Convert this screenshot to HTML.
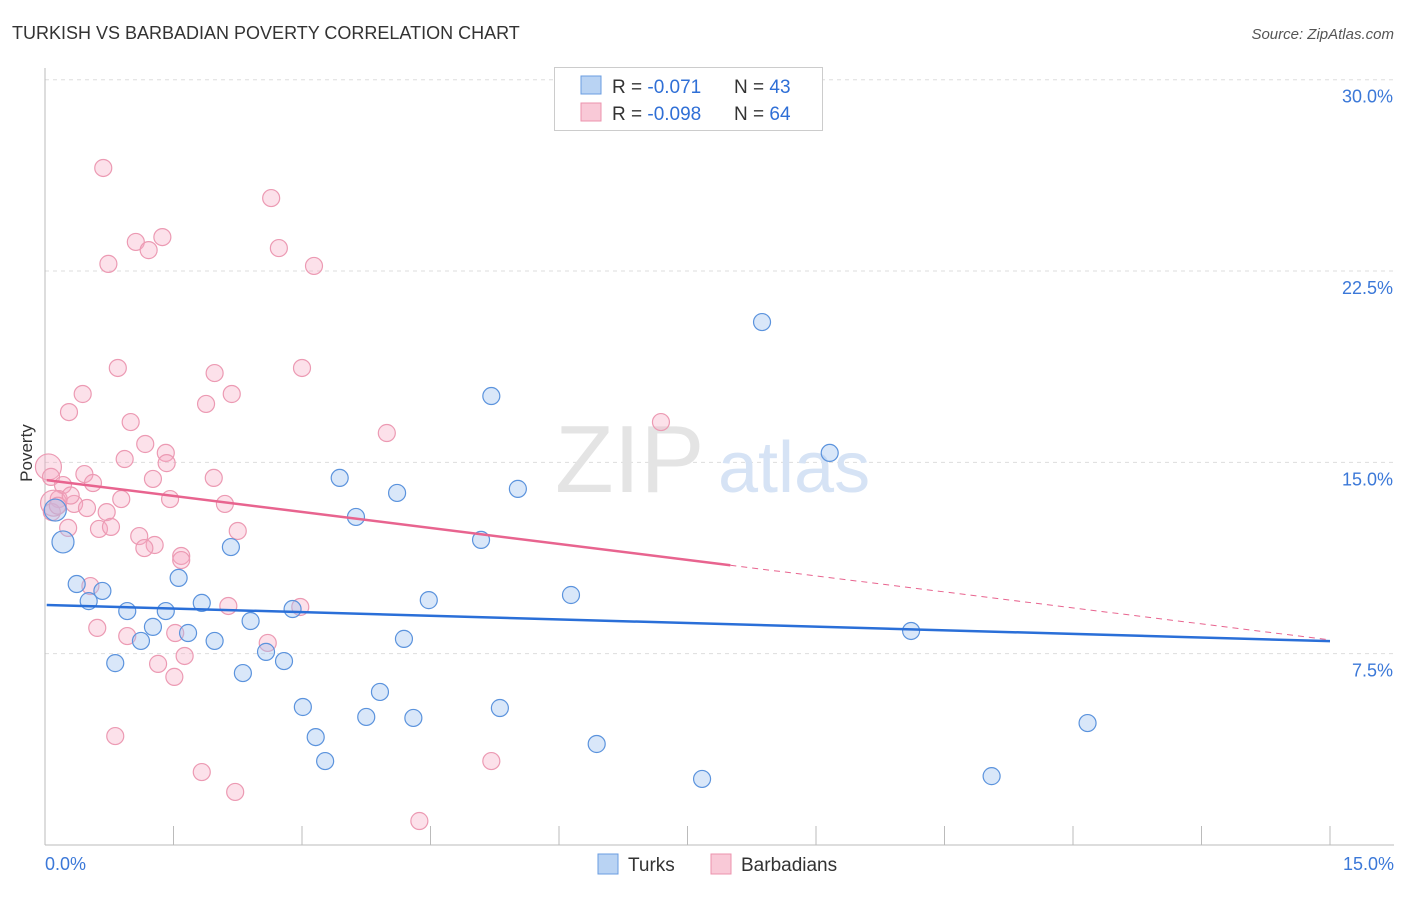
<!DOCTYPE html>
<html><head><meta charset="utf-8"><style>
body{margin:0;background:#fff;font-family:"Liberation Sans",sans-serif}
svg text{font-family:"Liberation Sans",sans-serif}
</style></head><body>
<svg id="c" width="1406" height="892" xmlns="http://www.w3.org/2000/svg">
<text x="12" y="39" font-size="18" fill="#333">TURKISH VS BARBADIAN POVERTY CORRELATION CHART</text>
<text x="1394" y="39" font-size="15" fill="#555" font-style="italic" text-anchor="end">Source: ZipAtlas.com</text>
<text x="36" y="457" font-size="17" fill="#333" transform="rotate(-90 32 457)" text-anchor="middle">Poverty</text>
<g id="grid"></g>
<text x="555" y="492" font-size="96" fill="#e4e4e4" font-family="Liberation Serif">ZIP</text>
<text x="718" y="492" font-size="72" fill="#d6e3f5">atlas</text>
<g id="pts"></g>
<g id="lines"></g>
<g>
<rect x="554.5" y="67.5" width="268" height="63" fill="#fff" stroke="#ccc"/>
<rect x="581" y="76" width="20" height="18" fill="#b9d3f3" stroke="#6a9de0"/>
<rect x="581" y="103" width="20" height="18" fill="#f9c9d7" stroke="#ec93ae"/>
<text x="612" y="93" font-size="19" fill="#333">R = <tspan fill="#2f6fd6">-0.071</tspan></text>
<text x="734" y="93" font-size="19" fill="#333">N = <tspan fill="#2f6fd6">43</tspan></text>
<text x="612" y="120" font-size="19" fill="#333">R = <tspan fill="#2f6fd6">-0.098</tspan></text>
<text x="734" y="120" font-size="19" fill="#333">N = <tspan fill="#2f6fd6">64</tspan></text>
</g>
<g>
<rect x="598" y="854" width="20" height="20" fill="#b9d3f3" stroke="#6a9de0"/>
<text x="628" y="871" font-size="19" fill="#333">Turks</text>
<rect x="711" y="854" width="20" height="20" fill="#f9c9d7" stroke="#ec93ae"/>
<text x="741" y="871" font-size="19" fill="#333">Barbadians</text>
</g>
</svg>
<script>
const yTicks=[7.5,15,22.5,30];
const xTickLabels=["0.0%","15.0%"];
const turkX=[8.37,5.21,9.16,3.44,4.11,5.52,3.63,5.09,2.17,0.21,0.12,0.37,0.67,1.56,0.51,0.96,1.41,1.83,2.89,2.40,4.48,6.14,1.26,1.67,1.12,1.98,4.19,10.11,2.58,2.79,0.82,2.31,3.91,3.01,3.75,4.30,5.31,12.17,3.16,6.44,3.27,7.67,11.05];
const turkY=[20.5,17.6,15.37,14.39,13.8,13.96,12.86,11.96,11.68,11.88,13.13,10.23,9.96,10.47,9.56,9.17,9.17,9.49,9.25,8.78,9.6,9.8,8.55,8.31,8.0,8.0,8.08,8.39,7.57,7.21,7.13,6.74,6.0,5.41,5.02,4.98,5.37,4.78,4.23,3.96,3.29,2.59,2.7];
const barbX=[0.68,2.64,1.06,1.37,1.21,2.73,0.74,3.14,0.85,1.98,3.0,0.44,2.18,0.28,1.88,1.0,3.99,7.19,1.17,1.41,0.93,1.42,0.04,0.46,1.26,1.97,0.07,0.56,0.21,0.89,1.46,0.16,2.10,0.34,0.49,0.72,0.08,0.27,0.63,0.77,2.25,1.10,1.28,1.16,1.59,1.59,0.53,2.14,2.98,0.61,0.96,1.52,2.60,1.63,1.32,1.51,0.82,1.83,2.22,5.21,4.37,0.1,0.3,0.15];
const barbY=[26.54,25.36,23.64,23.83,23.32,23.4,22.78,22.7,18.7,18.5,18.7,17.68,17.68,16.97,17.29,16.58,16.15,16.58,15.72,15.37,15.13,14.97,14.82,14.54,14.35,14.39,14.43,14.19,14.11,13.56,13.56,13.56,13.37,13.37,13.21,13.05,13.05,12.43,12.39,12.47,12.31,12.11,11.76,11.64,11.33,11.17,10.15,9.37,9.33,8.51,8.19,8.31,7.92,7.41,7.1,6.59,4.27,2.86,2.08,3.29,0.94,13.4,13.7,13.3];
const turkBig=[9,10];const barbBig=[22,61];
const turkTrend=[9.41,7.99];const barbTrend=[14.31,8.04];const barbSolidEnd=8.0;
const NS="http://www.w3.org/2000/svg";
const X=v=>45+v/15*1285, Y=v=>845-v/30*765.3;
function mk(t,a,p){const e=document.createElementNS(NS,t);for(const k in a)e.setAttribute(k,a[k]);p.appendChild(e);return e;}
const g=document.getElementById('grid');
yTicks.forEach(t=>{const l=mk('line',{x1:45,x2:1394,y1:Y(t),y2:Y(t),stroke:'#ddd','stroke-dasharray':'4,4'},g);


const tx=mk('text',{x:1393,y:Y(t)+23,'font-size':18,fill:'#3b78d8','text-anchor':'end'},g);tx.textContent=t.toFixed(1)+'%';

});
const ax=mk('line',{x1:45,x2:45,y1:68,y2:845,stroke:'#bbb'},g);


const bx=mk('line',{x1:45,x2:1394,y1:845,y2:845,stroke:'#bbb'},g);


for(let i=0;i<=10;i++){const t=mk('line',{x1:X(i*1.5),x2:X(i*1.5),y1:826,y2:845,stroke:'#bbb'},g);

}
[[0,'start'],[15,'end']].forEach((d,i)=>{const t=mk('text',{x:d[0]?1394:45,y:870,'font-size':18,fill:'#3b78d8','text-anchor':d[1]},g);t.textContent=xTickLabels[i];

});
const p=document.getElementById('pts');
barbX.forEach((v,i)=>{const c=mk('circle',{cx:X(v),cy:Y(barbY[i]),r:barbBig.includes(i)?13:8.5,fill:'rgba(245,170,195,0.35)',stroke:'#ec9ab3','stroke-width':1.2},p);

});
turkX.forEach((v,i)=>{const c=mk('circle',{cx:X(v),cy:Y(turkY[i]),r:turkBig.includes(i)?11:8.5,fill:'rgba(160,195,240,0.4)',stroke:'#5b93dd','stroke-width':1.2},p);

});
const L=document.getElementById('lines');
const b=mk('line',{x1:X(0.02),y1:Y(turkTrend[0]),x2:X(15),y2:Y(turkTrend[1]),stroke:'#2a6fd8','stroke-width':2.5},L);


const py=x=>barbTrend[0]+(barbTrend[1]-barbTrend[0])*x/15;
const r1=mk('line',{x1:X(0.02),y1:Y(py(0.02)),x2:X(barbSolidEnd),y2:Y(py(barbSolidEnd)),stroke:'#e8648f','stroke-width':2.5},L);


const r2=mk('line',{x1:X(barbSolidEnd),y1:Y(py(barbSolidEnd)),x2:X(15),y2:Y(py(15)),stroke:'#e8648f','stroke-width':1,'stroke-dasharray':'6,5'},L);


</script>
</body></html>
